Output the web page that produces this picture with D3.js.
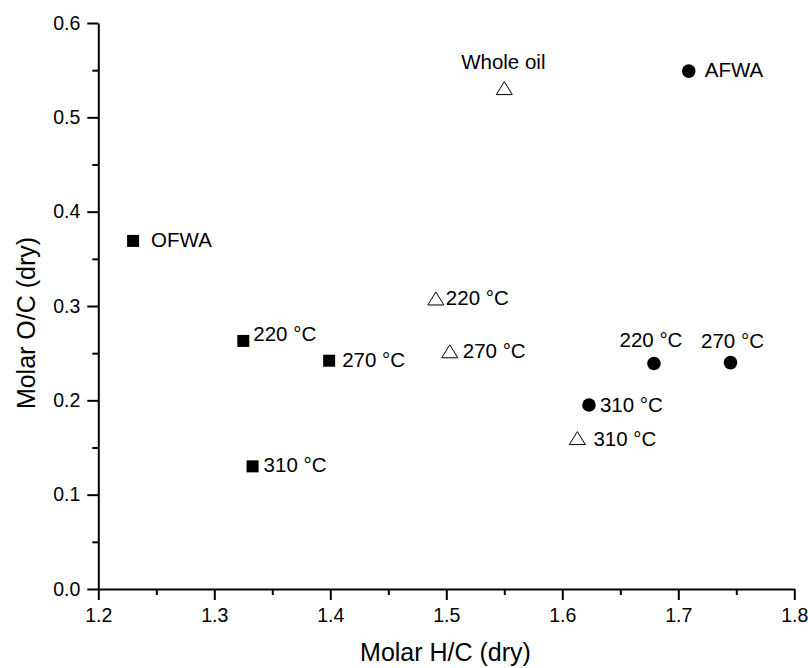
<!DOCTYPE html>
<html><head><meta charset="utf-8">
<script src="https://cdn.jsdelivr.net/npm/d3@7"></script>
<style>body{margin:0;background:#fff}</style>
</head><body>
<svg id="c" width="808" height="668"></svg>
<script>
// Data
const ofwaHC = [1.230, 1.325, 1.399, 1.333];
const ofwaOC = [0.369, 0.263, 0.242, 0.130];
const ofwaLabels = ["OFWA", "220 °C", "270 °C", "310 °C"];
const oilHC = [1.550, 1.491, 1.503, 1.613];
const oilOC = [0.531, 0.308, 0.252, 0.160];
const oilLabels = ["Whole oil", "220 °C", "270 °C", "310 °C"];
const afwaHC = [1.709, 1.679, 1.745, 1.623];
const afwaOC = [0.549, 0.239, 0.240, 0.195];
const afwaLabels = ["AFWA", "220 °C", "270 °C", "310 °C"];
const xTicks = [1.2, 1.3, 1.4, 1.5, 1.6, 1.7, 1.8];
const yTicks = [0.0, 0.1, 0.2, 0.3, 0.4, 0.5, 0.6];
const xMinor = [1.25, 1.35, 1.45, 1.55, 1.65, 1.75];
const yMinor = [0.05, 0.15, 0.25, 0.35, 0.45, 0.55];
const xTitle = "Molar H/C (dry)";
const yTitle = "Molar O/C (dry)";

// Layout (label placement relative to marker)
const ofwaPlace = [[18, 6, "start"], [10, 0, "start"], [13, 6, "start"], [11, 6, "start"]];
const oilPlace = [[-1, -19, "middle"], [10, 7, "start"], [13, 7, "start"], [16, 8, "start"]];
const afwaPlace = [[16, 6, "start"], [-3, -17, "middle"], [2, -15, "middle"], [11, 7, "start"]];

const svg = d3.select("#c");
const FONT = "'Liberation Sans', Arial, sans-serif";
const x = d3.scaleLinear().domain([1.2, 1.8]).range([98.3, 794.3]);
const y = d3.scaleLinear().domain([0, 0.6]).range([589, 23]);

function styleAxis(g) {
  g.select(".domain").attr("stroke", "#000").attr("stroke-width", 2);
  g.selectAll(".tick line").attr("stroke", "#000").attr("stroke-width", 2);
  g.selectAll(".tick text").attr("fill", "#000").style("font-family", FONT).style("font-size", "19.5px");
}

// minor ticks
svg.append("g").attr("transform", "translate(0,589)")
  .call(d3.axisBottom(x).tickValues(xMinor).tickSize(6).tickFormat(""))
  .call(g => { g.select(".domain").remove(); g.selectAll(".tick line").attr("stroke","#000").attr("stroke-width",2); });
svg.append("g").attr("transform", "translate(98.3,0)")
  .call(d3.axisLeft(y).tickValues(yMinor).tickSize(6).tickFormat(""))
  .call(g => { g.select(".domain").remove(); g.selectAll(".tick line").attr("stroke","#000").attr("stroke-width",2); });

// major axes
svg.append("g").attr("transform", "translate(0,589)")
  .call(d3.axisBottom(x).tickValues(xTicks).tickSize(11).tickSizeOuter(0).tickPadding(8).tickFormat(d3.format(".1f")))
  .call(styleAxis);
svg.append("g").attr("transform", "translate(98.3,0)")
  .call(d3.axisLeft(y).tickValues(yTicks).tickSize(11).tickSizeOuter(0).tickPadding(7).tickFormat(d3.format(".1f")))
  .call(styleAxis);

// titles
svg.append("text").attr("x", 445.5).attr("y", 661).attr("text-anchor", "middle")
  .style("font-family", FONT).style("font-size", "25px").text(xTitle);
svg.append("text").attr("transform", "translate(35,323) rotate(-90)").attr("text-anchor", "middle")
  .style("font-family", FONT).style("font-size", "25px").text(yTitle);

function labels(hc, oc, lab, place) {
  svg.append("g").selectAll("text").data(lab).join("text")
    .attr("x", (d, i) => x(hc[i]) + place[i][0])
    .attr("y", (d, i) => y(oc[i]) + place[i][1])
    .attr("text-anchor", (d, i) => place[i][2])
    .style("font-family", FONT).style("font-size", "20.5px").attr("fill", "#000")
    .text(d => d);
}

// squares
svg.append("g").selectAll("rect").data(ofwaHC).join("rect")
  .attr("x", (d, i) => x(d) - 6).attr("y", (d, i) => y(ofwaOC[i]) - 6)
  .attr("width", 12).attr("height", 12).attr("fill", "#000");
labels(ofwaHC, ofwaOC, ofwaLabels, ofwaPlace);

// triangles
const tw = 16, th = 13;
svg.append("g").selectAll("path").data(oilHC).join("path")
  .attr("transform", (d, i) => `translate(${x(d)},${y(oilOC[i])})`)
  .attr("d", `M0,${-th/2}L${tw/2},${th/2}L${-tw/2},${th/2}Z`)
  .attr("fill", "#fff").attr("stroke", "#000").attr("stroke-width", 1);
labels(oilHC, oilOC, oilLabels, oilPlace);

// circles
svg.append("g").selectAll("circle").data(afwaHC).join("circle")
  .attr("cx", d => x(d)).attr("cy", (d, i) => y(afwaOC[i])).attr("r", 6.8).attr("fill", "#000");
labels(afwaHC, afwaOC, afwaLabels, afwaPlace);
</script>
</body></html>
